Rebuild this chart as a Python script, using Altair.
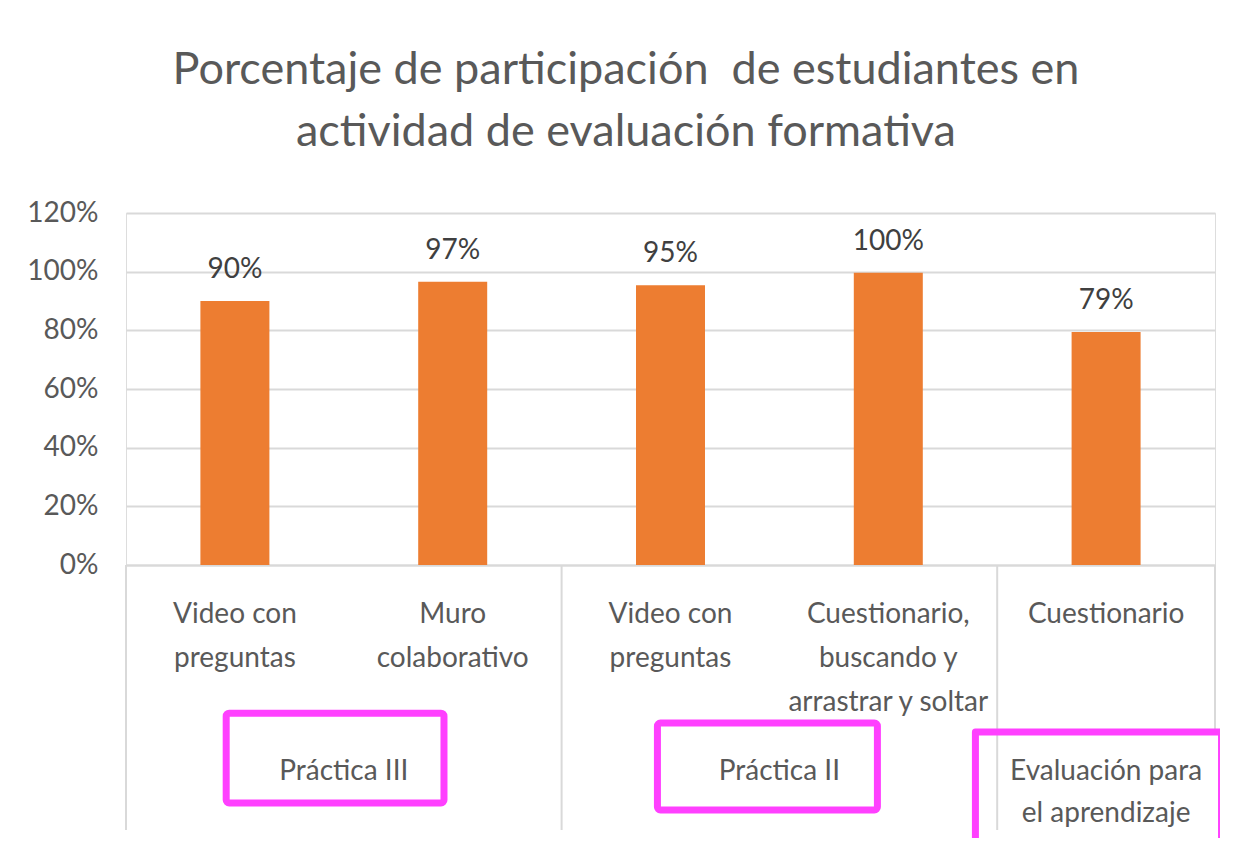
import altair as alt
import pandas as pd

# ---------------- data ----------------
cat_ids = ["c1", "c2", "c3", "c4", "c5"]
cat_labels = [
    ["Video con", "preguntas"],
    ["Muro", "colaborativo"],
    ["Video con", "preguntas"],
    ["Cuestionario,", "buscando y", "arrastrar y soltar"],
    ["Cuestionario"],
]
values = [0.90, 0.966, 0.954, 0.996, 0.794]

y_ticks = [0, 0.2, 0.4, 0.6, 0.8, 1.0, 1.2]

# group annotations (x in category-slot units, y in value units below zero)
group_names = ["Práctica III", "Práctica II", "Evaluación para\nel aprendizaje"]
group_x = [1.0, 3.0, 4.5]
group_y = [-0.705, -0.705, -0.705]

# closed boxes (Práctica III, Práctica II)
box_x0 = [0.46, 2.44]
box_x1 = [1.46, 3.45]
box_y0 = [-0.505, -0.539]
box_y1 = [-0.811, -0.835]

# open box (Evaluación para el aprendizaje), cut by the bottom edge
open_x = [3.90, 3.90, 5.03, 5.03]
open_y = [-1.0, -0.569, -0.569, -1.0]
open_order = [0, 1, 2, 3]

sep_x = [0, 2, 4, 5]
sep_y0 = [0, 0, 0, 0]
sep_y1 = [-0.903, -0.903, -0.903, -0.569]

title_lines = [
    "Porcentaje de participación\u00a0 de estudiantes en",
    "actividad de evaluación formativa",
]

FONT = "Lato"
TXT = "#595959"
GRID = "#D9D9D9"
ORANGE = "#ED7D31"
MAGENTA = "#FF40FF"

# ---------------- tables ----------------
df = pd.DataFrame({"cat": cat_ids, "value": values})
groups = pd.DataFrame({"name": group_names, "x": group_x, "y": group_y})
boxes = pd.DataFrame({"x0": box_x0, "x1": box_x1, "y0": box_y0, "y1": box_y1})
open_box = pd.DataFrame({"x": open_x, "y": open_y, "o": open_order})
seps = pd.DataFrame({"x": sep_x, "y0": sep_y0, "y1": sep_y1})


def js_arr(lines):
    return "[" + ",".join("'" + s + "'" for s in lines) + "]"


expr = "''"
for cid, lab in reversed(list(zip(cat_ids, cat_labels))):
    expr = f"datum.value == '{cid}' ? {js_arr(lab)} : ({expr})"

W, H = 1089, 352

x_enc = alt.X(
    "cat:N",
    sort=cat_ids,
    scale=alt.Scale(paddingInner=0, paddingOuter=0),
    axis=alt.Axis(
        title=None,
        labelExpr=expr,
        labelAngle=0,
        labelFont=FONT,
        labelFontSize=28,
        labelColor=TXT,
        labelPadding=35,
        labelLineHeight=44,
        labelLimit=400,
        ticks=False,
        domainColor=GRID,
        domainWidth=2,
        grid=False,
    ),
)
y_enc = alt.Y(
    "value:Q",
    scale=alt.Scale(domain=[0, 1.2]),
    axis=alt.Axis(
        title=None,
        values=y_ticks,
        format=".0%",
        domain=False,
        ticks=False,
        gridColor=GRID,
        gridWidth=2,
        labelFont=FONT,
        labelFontSize=28,
        labelColor=TXT,
        labelPadding=28,
    ),
)

bars = alt.Chart(df).mark_bar(color=ORANGE, width=69).encode(x=x_enc, y=y_enc)
labels = alt.Chart(df).mark_text(
    dy=-31, fontSize=28, font=FONT, color="#404040", baseline="middle"
).encode(x=x_enc, y=y_enc, text=alt.Text("value:Q", format=".0%"))
main = alt.layer(bars, labels)

xa = alt.Scale(domain=[0, 5], nice=False, zero=False)
ya = alt.Scale(domain=[0, 1.2], nice=False, zero=False)

sep_rules = alt.Chart(seps).mark_rule(color=GRID, strokeWidth=2).encode(
    x=alt.X("x:Q", scale=xa, axis=None),
    y=alt.Y("y0:Q", scale=ya, axis=None),
    y2="y1:Q",
)
box_rects = alt.Chart(boxes).mark_rect(
    fillOpacity=0, stroke=MAGENTA, strokeWidth=7, cornerRadius=3
).encode(
    x=alt.X("x0:Q", scale=xa, axis=None),
    x2="x1:Q",
    y=alt.Y("y0:Q", scale=ya, axis=None),
    y2="y1:Q",
)
box_open = alt.Chart(open_box).mark_line(
    color=MAGENTA, strokeWidth=7, strokeJoin="round"
).encode(
    x=alt.X("x:Q", scale=xa, axis=None),
    y=alt.Y("y:Q", scale=ya, axis=None),
    order="o:Q",
)
group_text = alt.Chart(groups).mark_text(
    font=FONT, fontSize=28, color=TXT, lineBreak="\n", baseline="middle", lineHeight=42
).encode(
    x=alt.X("x:Q", scale=xa, axis=None),
    y=alt.Y("y:Q", scale=ya, axis=None),
    text="name:N",
)
annot = alt.layer(sep_rules, box_rects, box_open, group_text)

chart = (
    alt.layer(main, annot)
    .resolve_scale(x="independent", y="independent")
    .properties(
        width=W,
        height=H,
        autosize=alt.AutoSizeParams(type="none"),
        padding={"left": 118, "top": 205, "right": 5, "bottom": 273},
        title=alt.TitleParams(
            text=title_lines,
            font=FONT,
            fontSize=45,
            fontWeight="normal",
            color=TXT,
            lineHeight=62,
            anchor="middle",
            frame="bounds",
            offset=44,
        ),
    )
    .configure_view(stroke=None)
    .configure(background="white")
)

chart.save("out.html", embed_options={"renderer": "svg", "actions": False})
